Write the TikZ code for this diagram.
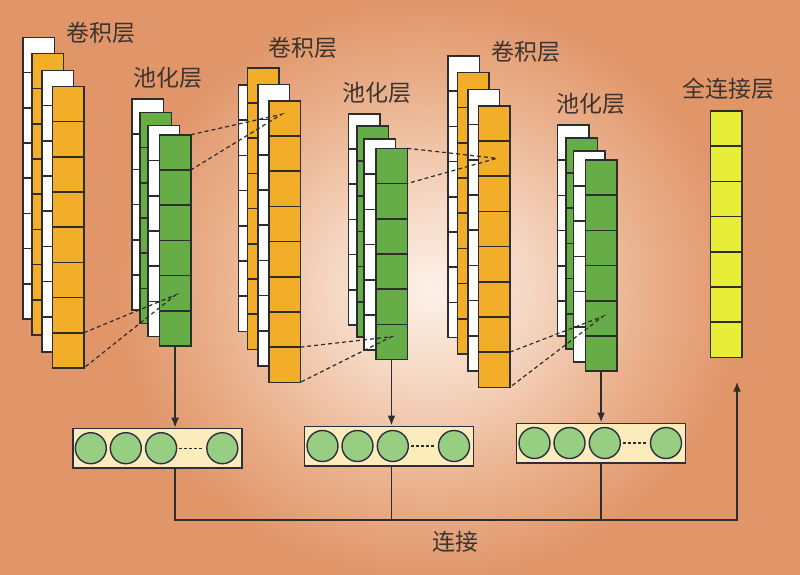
\documentclass[tikz,border=0pt]{standalone}
\usepackage{fontspec}
\newfontfamily\cjk{Noto Sans CJK SC}
\usepackage{tikz}
\usetikzlibrary{calc,arrows.meta}

\definecolor{bgin}{RGB}{253,241,233}
\definecolor{bgmida}{RGB}{245,214,193}
\definecolor{bgmidb}{RGB}{234,178,142}
\definecolor{bgout}{RGB}{225,150,106}
\definecolor{convfill}{RGB}{242,174,40}
\definecolor{poolfill}{RGB}{102,172,71}
\definecolor{fcfill}{RGB}{232,237,56}
\definecolor{boxfill}{RGB}{252,236,188}
\definecolor{dotfill}{RGB}{152,206,130}
\definecolor{linegray}{RGB}{45,45,45}
\definecolor{boxline}{RGB}{45,45,65}
\definecolor{textgray}{RGB}{60,52,48}
\pgfdeclareradialshading{bgglow}{\pgfpoint{0bp}{0bp}}{color(0bp)=(bgin); color(12bp)=(bgmida); color(25bp)=(bgmidb); color(37bp)=(bgout); color(50bp)=(bgout)}

\tikzset{
  sheet/.style={draw=linegray, line width=1.6pt, inner sep=0pt, outer sep=0pt,
    minimum width=31.6pt, anchor=north west},
  cellline/.style={draw=linegray, line width=1.6pt},
  layername/.style={font=\cjk\fontsize{23}{26}\selectfont, text=textgray},
  dashline/.style={draw=linegray, line width=1.2pt, dash pattern=on 4pt off 3pt},
  link/.style={draw=linegray, line width=1.8pt},
  linkarrow/.style={link, -{Latex[length=10pt,width=8pt]}},
  poolbox/.style={draw=boxline, fill=boxfill, line width=1.5pt, inner sep=0pt,
    minimum width=169pt, minimum height=39.5pt},
  unit/.style={circle, draw=boxline, fill=dotfill, line width=1.4pt,
    minimum size=31pt, inner sep=0pt},
}

\begin{document}
\begin{tikzpicture}[x=1pt, y=-1pt]
    \useasboundingbox (0,0) rectangle (800,574);
    \begin{scope}
      \clip (-3,-3) rectangle (803,577);
      \fill[bgout] (-3,-3) rectangle (803,577);
      \node[inner sep=0pt, transform shape, xscale=8.4, yscale=7.8] (glow) at (430,290) {\pgfuseshading{bgglow}};% background glow
    \end{scope}

    % stacks of feature maps, back to front
    \foreach \nm/\x/\y/\n/\c in {
        c1a/22.7/37.3/8/white, c1b/32/53.3/8/convfill, c1c/41.7/70.3/8/white, c1d/52.3/86.3/8/convfill,
        p1a/131.7/99/6/white, p1b/140/112.3/6/poolfill, p1c/147.7/125.3/6/white, p1d/159.3/134.7/6/poolfill,
        c2a/238.3/85/7/white, c2b/247.3/67.7/8/convfill, c2c/257.7/84.3/8/white, c2d/268.7/100.7/8/convfill,
        p2a/348.3/113.7/6/white, p2b/356.7/125.7/6/poolfill, p2c/364/139/6/white, p2d/375.7/148.3/6/poolfill,
        c3a/447.7/56/8/white, c3b/457.3/72.3/8/convfill, c3c/467.7/89.3/8/white, c3d/478.3/105.7/8/convfill,
        p3a/557.3/125/6/white, p3b/566/137.7/6/poolfill, p3c/573.3/150.7/6/white, p3d/585.3/160/6/poolfill,
        fc/710.3/111/7/fcfill}{%
      \pgfmathsetmacro{\h}{\n*35.2}
      \pgfmathtruncatemacro{\last}{\n-1}
      \node[sheet, fill=\c, minimum height=\h pt] (\nm) at (\x,\y) {};
      \foreach \k in {1,...,\last}{% cell borders
        \draw[cellline] ($(\nm.north west)+(0,\k*35.2)$) -- ++(31.6,0);
      }
    }

    % layer names
    \node[layername] (lc1) at (100.8,32.5) {卷积层};
    \node[layername] (lp1) at (167.7,77.5) {池化层};
    \node[layername] (lc2) at (303.3,47.5) {卷积层};
    \node[layername] (lp2) at (377,92.5) {池化层};
    \node[layername] (lc3) at (525.8,51.7) {卷积层};
    \node[layername] (lp3) at (590.5,104) {池化层};
    \node[layername] (lfc) at (728.8,88.3) {全连接层};
    \node[layername] (lcat) at (455,541.7) {连接};

    % points where the receptive fields meet
    \coordinate (tip1) at (175.5,295);
    \coordinate (tip2) at (281.7,114.3);
    \coordinate (tip3) at (391.7,336.7);
    \coordinate (tip4) at (496.7,158.3);
    \coordinate (tip5) at (603,316.3);
    \draw[dashline] ($(c1d.south east)+(0,-35.2)$) -- (tip1) -- (c1d.south east);
    \draw[dashline] (p1d.north east) -- (tip2) -- ($(p1d.north east)+(0,35.2)$);
    \draw[dashline] ($(c2d.south east)+(0,-35.2)$) -- (tip3) -- (c2d.south east);
    \draw[dashline] (p2d.north east) -- (tip4) -- ($(p2d.north east)+(0,35.2)$);
    \draw[dashline] ($(c3d.south east)+(0,-35.2)$) -- (tip5) -- (c3d.south east);

    % flattened pooling outputs
    \foreach \b/\cx/\cy in {1/157.3/448.2, 2/389/446, 3/601/443}{
      \node[poolbox] (box\b) at (\cx,\cy) {};
      \foreach \u/\dx in {1/-66.5, 2/-31.5, 3/3.8, 4/65}{
        \node[unit] (box\b-u\u) at ($(box\b.center)+(\dx,0)$) {};
      }
      \draw[dashline, dash pattern=on 3pt off 2pt, shorten <=2pt, shorten >=2pt] (box\b-u3) -- (box\b-u4);
    }

    \draw[linkarrow] (p1d.south) -- (p1d.south |- box1.north);
    \draw[linkarrow] (p2d.south) -- (p2d.south |- box2.north);
    \draw[linkarrow] (p3d.south) -- (p3d.south |- box3.north);

    % concatenation into the dense layer
    \coordinate (bus) at (737,520);
    \coordinate (fcin) at (737,381.7);
    \draw[linkarrow] (p1d.south |- box1.south) |- (bus) -- (fcin);
    \draw[link] (p2d.south |- box2.south) -- (p2d.south |- bus);
    \draw[link] (p3d.south |- box3.south) -- (p3d.south |- bus);
\end{tikzpicture}
\end{document}
